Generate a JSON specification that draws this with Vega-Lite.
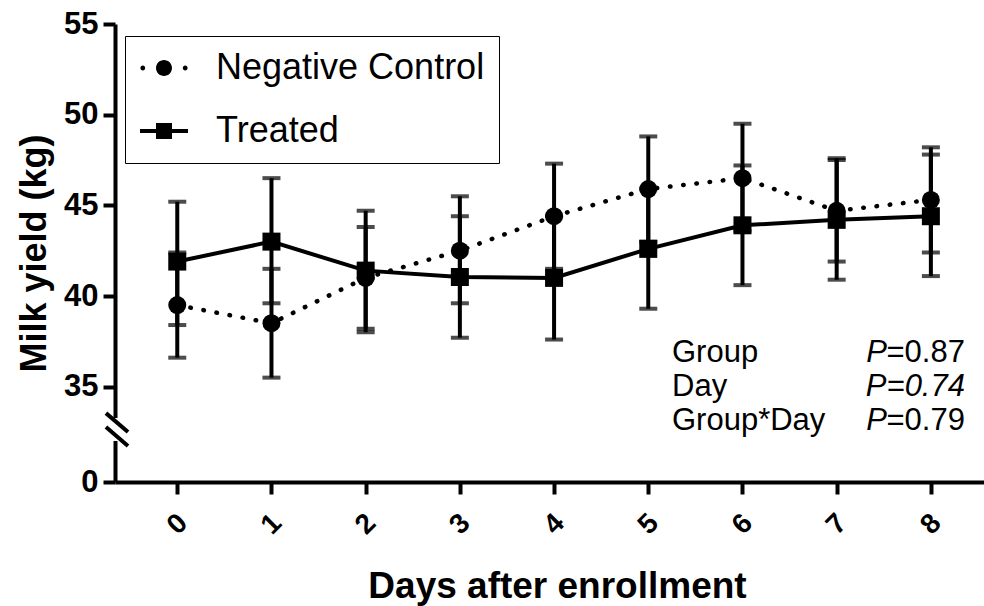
{
  "$schema": "https://vega.github.io/schema/vega-lite/v6.json",
  "width": 869,
  "height": 458,
  "autosize": {"type": "none"},
  "padding": {"left": 115, "top": 24, "right": 0, "bottom": 124},
  "background": "white",
  "config": {"view": {"stroke": null}, "font": "Liberation Sans"},
  "datasets": {
    "milk": [
      {"day": 0, "group": "Negative Control", "mean": 39.5, "lo": 36.6, "hi": 42.4},
      {"day": 1, "group": "Negative Control", "mean": 38.5, "lo": 35.5, "hi": 41.5},
      {"day": 2, "group": "Negative Control", "mean": 41.0, "lo": 38.2, "hi": 43.8},
      {"day": 3, "group": "Negative Control", "mean": 42.5, "lo": 39.6, "hi": 45.5},
      {"day": 4, "group": "Negative Control", "mean": 44.4, "lo": 41.5, "hi": 47.3},
      {"day": 5, "group": "Negative Control", "mean": 45.9, "lo": 43.0, "hi": 48.8},
      {"day": 6, "group": "Negative Control", "mean": 46.5, "lo": 43.6, "hi": 49.5},
      {"day": 7, "group": "Negative Control", "mean": 44.7, "lo": 41.9, "hi": 47.6},
      {"day": 8, "group": "Negative Control", "mean": 45.3, "lo": 42.4, "hi": 48.2},
      {"day": 0, "group": "Treated", "mean": 41.9, "lo": 38.4, "hi": 45.2},
      {"day": 1, "group": "Treated", "mean": 43.0, "lo": 39.6, "hi": 46.5},
      {"day": 2, "group": "Treated", "mean": 41.4, "lo": 38.0, "hi": 44.7},
      {"day": 3, "group": "Treated", "mean": 41.05, "lo": 37.7, "hi": 44.4},
      {"day": 4, "group": "Treated", "mean": 41.0, "lo": 37.6, "hi": 44.4},
      {"day": 5, "group": "Treated", "mean": 42.6, "lo": 39.3, "hi": 45.9},
      {"day": 6, "group": "Treated", "mean": 43.9, "lo": 40.6, "hi": 47.2},
      {"day": 7, "group": "Treated", "mean": 44.2, "lo": 40.9, "hi": 47.5},
      {"day": 8, "group": "Treated", "mean": 44.4, "lo": 41.1, "hi": 47.8}
    ],
    "one": [{}]
  },
  "layer": [
    {
      "data": {"name": "milk"},
      "transform": [{"filter": "datum.group === 'Negative Control'"}],
      "mark": {"type": "line", "color": "black", "strokeWidth": 4.5, "strokeDash": [0.5, 12.8], "strokeCap": "round"},
      "encoding": {
        "x": {
          "field": "day", "type": "quantitative",
          "scale": {"domain": [-0.661, 8.564], "nice": false, "zero": false},
          "axis": {
            "values": [0, 1, 2, 3, 4, 5, 6, 7, 8], "format": "d",
            "title": "Days after enrollment",
            "titleFont": "Liberation Sans", "titleFontSize": 37, "titleFontWeight": "bold", "titleColor": "black",
            "titleX": 442, "titleY": 115, "titleBaseline": "alphabetic", "titleAlign": "center",
            "labelAngle": -45, "labelAlign": "center", "labelBaseline": "middle", "labelPadding": 30,
            "labelFont": "Liberation Sans", "labelFontSize": 28, "labelFontWeight": "bold", "labelColor": "black",
            "labelFlush": false, "labelOverlap": false,
            "tickSize": 12, "tickWidth": 4, "tickColor": "black",
            "domainColor": "black", "domainWidth": 4, "grid": false
          }
        },
        "y": {
          "field": "mean", "type": "quantitative",
          "scale": {"domain": [0, 35, 55], "range": [458, 362.7, 0], "nice": false, "zero": false},
          "axis": {
            "values": [0, 35, 40, 45, 50, 55], "format": "d",
            "title": "Milk yield (kg)",
            "titleFont": "Liberation Sans", "titleFontSize": 36, "titleFontWeight": "bold", "titleColor": "black",
            "titleX": -70, "titleY": 229, "titleAngle": -90, "titleBaseline": "alphabetic", "titleAlign": "center",
            "labelFont": "Liberation Sans", "labelFontSize": 31, "labelFontWeight": "bold", "labelColor": "black",
            "labelPadding": 5, "labelFlush": false, "labelOverlap": false,
            "tickSize": 12, "tickWidth": 4, "tickColor": "black",
            "domainColor": "black", "domainWidth": 4, "grid": false
          }
        }
      }
    },
    {
      "data": {"name": "milk"},
      "transform": [{"filter": "datum.group === 'Treated'"}],
      "mark": {"type": "line", "color": "black", "strokeWidth": 4},
      "encoding": {"x": {"field": "day", "type": "quantitative"}, "y": {"field": "mean", "type": "quantitative"}}
    },
    {
      "data": {"name": "milk"},
      "mark": {"type": "rule", "color": "black", "strokeWidth": 4},
      "encoding": {"x": {"field": "day", "type": "quantitative"}, "y": {"field": "lo", "type": "quantitative"}, "y2": {"field": "hi"}}
    },
    {
      "data": {"name": "milk"},
      "mark": {"type": "tick", "orient": "horizontal", "color": "black", "size": 18, "thickness": 4},
      "encoding": {"x": {"field": "day", "type": "quantitative"}, "y": {"field": "lo", "type": "quantitative"}}
    },
    {
      "data": {"name": "milk"},
      "mark": {"type": "tick", "orient": "horizontal", "color": "black", "size": 18, "thickness": 4},
      "encoding": {"x": {"field": "day", "type": "quantitative"}, "y": {"field": "hi", "type": "quantitative"}}
    },
    {
      "data": {"name": "milk"},
      "transform": [{"filter": "datum.group === 'Negative Control'"}],
      "mark": {"type": "point", "shape": "circle", "filled": true, "color": "black", "size": 324, "opacity": 1},
      "encoding": {"x": {"field": "day", "type": "quantitative"}, "y": {"field": "mean", "type": "quantitative"}}
    },
    {
      "data": {"name": "milk"},
      "transform": [{"filter": "datum.group === 'Treated'"}],
      "mark": {"type": "point", "shape": "square", "filled": true, "color": "black", "size": 324, "opacity": 1},
      "encoding": {"x": {"field": "day", "type": "quantitative"}, "y": {"field": "mean", "type": "quantitative"}}
    },
    {
      "data": {"name": "milk"},
      "mark": {"type": "point", "filled": true, "color": "black", "opacity": 0},
      "encoding": {
        "x": {"field": "day", "type": "quantitative"},
        "y": {"field": "mean", "type": "quantitative"},
        "shape": {
          "field": "group", "type": "nominal",
          "scale": {
            "domain": ["Negative Control", "Treated"],
            "range": [
              "M-1,0A1,1,0,1,0,1,0A1,1,0,1,0,-1,0Z M-2.95,0A0.3,0.3,0,1,0,-2.35,0A0.3,0.3,0,1,0,-2.95,0Z M2.35,0A0.3,0.3,0,1,0,2.95,0A0.3,0.3,0,1,0,2.35,0Z",
              "M-3,-0.25H3V0.25H-3Z M-1,-1H1V1H-1Z"
            ]
          },
          "legend": {
            "orient": "none", "legendX": 10, "legendY": 12, "title": null,
            "strokeColor": "black", "padding": 14,
            "labelFont": "Liberation Sans", "labelFontSize": 36, "labelColor": "black", "labelLimit": 0,
            "symbolSize": 256, "symbolFillColor": "black", "symbolStrokeWidth": 0, "symbolOpacity": 1,
            "symbolOffset": 7, "labelOffset": 34, "rowPadding": 27,
            "encode": {
              "symbols": {"update": {"opacity": {"value": 1}, "fill": {"value": "black"}}},
              "legend": {"update": {"strokeWidth": {"value": 2}}}
            }
          }
        }
      }
    },
    {
      "data": {"name": "one"},
      "mark": {"type": "rule", "color": "white", "strokeWidth": 9},
      "encoding": {"x": {"datum": -0.661}, "y": {"datum": 15.05}, "y2": {"datum": 23.5}}
    },
    {
      "data": {"name": "one"},
      "mark": {"type": "rule", "color": "black", "strokeWidth": 4},
      "encoding": {"x": {"datum": -0.757}, "x2": {"datum": -0.523}, "y": {"datum": 25.3}, "y2": {"datum": 18.4}}
    },
    {
      "data": {"name": "one"},
      "mark": {"type": "rule", "color": "black", "strokeWidth": 4},
      "encoding": {"x": {"datum": -0.757}, "x2": {"datum": -0.523}, "y": {"datum": 20.2}, "y2": {"datum": 13.2}}
    },
    {
      "data": {"name": "one"},
      "mark": {"type": "text", "align": "left", "baseline": "alphabetic", "font": "Liberation Sans", "fontSize": 31, "color": "black", "lineBreak": "\n", "lineHeight": 34},
      "encoding": {"x": {"datum": 5.252}, "y": {"datum": 36.35}, "text": {"value": "Group\nDay\nGroup*Day"}}
    },
    {
      "data": {"name": "one"},
      "mark": {"type": "text", "align": "right", "baseline": "alphabetic", "font": "Liberation Sans", "fontSize": 31, "color": "black"},
      "encoding": {"x": {"datum": 8.362}, "y": {"datum": 36.35}, "text": {"value": "=0.87"}}
    },
    {
      "data": {"name": "one"},
      "mark": {"type": "text", "align": "right", "baseline": "alphabetic", "font": "Liberation Sans", "fontSize": 31, "color": "black"},
      "encoding": {"x": {"datum": 8.362}, "y": {"datum": 19.1}, "text": {"value": "=0.79"}}
    },
    {
      "data": {"name": "one"},
      "mark": {"type": "text", "align": "right", "baseline": "alphabetic", "font": "Liberation Sans", "fontSize": 31, "fontStyle": "italic", "color": "black", "dx": -78},
      "encoding": {"x": {"datum": 8.362}, "y": {"datum": 36.35}, "text": {"value": "P"}}
    },
    {
      "data": {"name": "one"},
      "mark": {"type": "text", "align": "right", "baseline": "alphabetic", "font": "Liberation Sans", "fontSize": 31, "fontStyle": "italic", "color": "black", "dx": -78},
      "encoding": {"x": {"datum": 8.362}, "y": {"datum": 19.1}, "text": {"value": "P"}}
    },
    {
      "data": {"name": "one"},
      "mark": {"type": "text", "align": "right", "baseline": "alphabetic", "font": "Liberation Sans", "fontSize": 31, "fontStyle": "italic", "color": "black"},
      "encoding": {"x": {"datum": 8.362}, "y": {"datum": 31.6}, "text": {"value": "P=0.74"}}
    }
  ]
}
